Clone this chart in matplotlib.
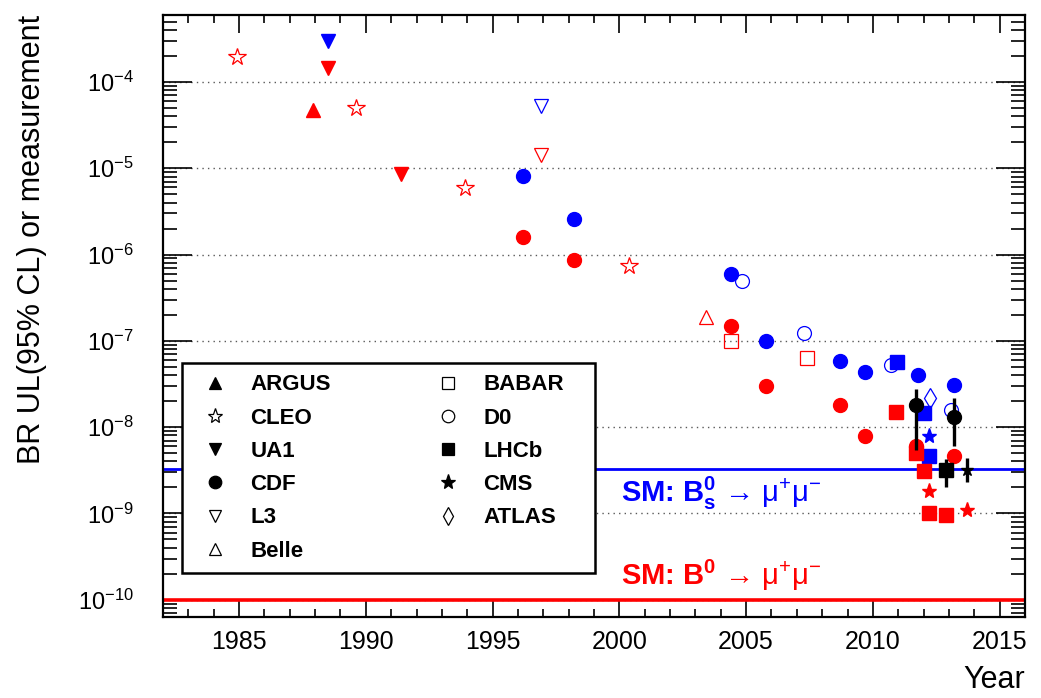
import matplotlib
matplotlib.use("Agg")
import matplotlib.pyplot as plt
from matplotlib.lines import Line2D
from matplotlib.patches import Rectangle
from matplotlib.ticker import LogLocator, MultipleLocator, NullFormatter

plt.rcParams["font.family"] = ["Liberation Sans", "DejaVu Sans"]
plt.rcParams["mathtext.fontset"] = "custom"
plt.rcParams["mathtext.rm"] = "Liberation Sans"
plt.rcParams["mathtext.bf"] = "Liberation Sans:bold"
plt.rcParams["mathtext.it"] = "Liberation Sans:italic"

RED = "#ff0000"
BLUE = "#0000ff"

# upper limits, B0 -> mu mu (red) and Bs -> mu mu (blue)
argus_b0_year = [1987.9]
argus_b0 = [4.7e-5]
cleo_b0_year = [1984.9, 1989.6, 1993.9, 2000.4]
cleo_b0 = [1.95e-4, 5.0e-5, 5.9e-6, 7.4e-7]
ua1_b0_year = [1988.5, 1991.4]
ua1_b0 = [1.45e-4, 8.6e-6]
ua1_bs_year = [1988.5]
ua1_bs = [3.0e-4]
l3_year = [1996.9]
l3_b0 = [1.43e-5]
l3_bs = [5.2e-5]
cdf_b0_year = [1996.2, 1998.2, 2004.4, 2005.8, 2008.7, 2009.7, 2011.7, 2013.2]
cdf_b0 = [1.6e-6, 8.6e-7, 1.5e-7, 3.0e-8, 1.8e-8, 7.8e-9, 6.0e-9, 4.6e-9]
cdf_bs_year = [1996.2, 1998.2, 2004.4, 2005.8, 2008.7, 2009.7, 2011.8, 2013.2]
cdf_bs = [8.2e-6, 2.6e-6, 5.9e-7, 1.0e-7, 5.8e-8, 4.4e-8, 4.0e-8, 3.1e-8]
belle_b0_year = [2003.4]
belle_b0 = [1.9e-7]
babar_b0_year = [2004.4, 2007.4]
babar_b0 = [1.0e-7, 6.3e-8]
d0_bs_year = [2004.85, 2007.3, 2010.7, 2013.1]
d0_bs = [4.9e-7, 1.22e-7, 5.3e-8, 1.6e-8]
lhcb_bs_year = [2010.95, 2012.0, 2012.2]
lhcb_bs = [5.7e-8, 1.45e-8, 4.6e-9]
lhcb_b0_year = [2010.9, 2011.7, 2012.0, 2012.2, 2012.9]
lhcb_b0 = [1.5e-8, 5.0e-9, 3.1e-9, 1.0e-9, 9.6e-10]
cms_bs_year = [2012.2]
cms_bs = [7.8e-9]
cms_b0_year = [2012.2, 2013.7]
cms_b0 = [1.8e-9, 1.1e-9]
atlas_bs_year = [2012.25]
atlas_bs = [2.2e-8]

# Bs -> mu mu measurements (black) with error bars
cdf_meas_year = [2011.7, 2013.2]
cdf_meas = [1.8e-8, 1.3e-8]
cdf_meas_lo = [5.5e-9, 6.0e-9]
cdf_meas_hi = [2.8e-8, 2.2e-8]
lhcb_meas_year = [2012.9]
lhcb_meas = [3.2e-9]
lhcb_meas_lo = [2.0e-9]
lhcb_meas_hi = [4.3e-9]
cms_meas_year = [2013.7]
cms_meas = [3.2e-9]
cms_meas_lo = [2.3e-9]
cms_meas_hi = [4.4e-9]

sm_bs = 3.25e-9
sm_b0 = 1.0e-10

y_ticks = [1e-10, 1e-9, 1e-8, 1e-7, 1e-6, 1e-5, 1e-4]

fig = plt.figure(figsize=(10.41, 6.98), dpi=100)
ax = fig.add_axes([0.1566, 0.116, 0.828, 0.8625])

ax.axhline(sm_bs, color=BLUE, lw=2.0, zorder=2)
ax.axhline(sm_b0, color=RED, lw=2.6, zorder=2)


def pts(x, y, marker, color, ms, filled=True, mew=1.0):
    ax.plot(x, y, ls="none", marker=marker, ms=ms, mew=mew,
            mfc=color if filled else "none", mec=color, zorder=4)


pts(argus_b0_year, argus_b0, "^", RED, 10)
pts(cleo_b0_year, cleo_b0, "*", RED, 13, filled=False, mew=0.9)
pts(ua1_b0_year, ua1_b0, "v", RED, 10)
pts(ua1_bs_year, ua1_bs, "v", BLUE, 10)
pts(l3_year, l3_b0, "v", RED, 10, filled=False, mew=0.9)
pts(l3_year, l3_bs, "v", BLUE, 10, filled=False, mew=0.9)
pts(cdf_b0_year, cdf_b0, "o", RED, 10)
pts(cdf_bs_year, cdf_bs, "o", BLUE, 10)
pts(belle_b0_year, belle_b0, "^", RED, 10, filled=False, mew=0.9)
pts(babar_b0_year, babar_b0, "s", RED, 10, filled=False, mew=0.9)
pts(d0_bs_year, d0_bs, "o", BLUE, 10, filled=False, mew=0.9)
pts(lhcb_bs_year, lhcb_bs, "s", BLUE, 9.5)
pts(lhcb_b0_year, lhcb_b0, "s", RED, 9.5)
pts(cms_bs_year, cms_bs, "*", BLUE, 11)
pts(cms_b0_year, cms_b0, "*", RED, 11)
pts(atlas_bs_year, atlas_bs, "d", BLUE, 10, filled=False, mew=0.9)


def meas(x, y, lo, hi, marker, ms):
    err = [[v - l for v, l in zip(y, lo)], [h - v for v, h in zip(y, hi)]]
    ax.errorbar(x, y, yerr=err, fmt=marker, color="black", ms=ms,
                elinewidth=2.4, capsize=0, zorder=5)


meas(cdf_meas_year, cdf_meas, cdf_meas_lo, cdf_meas_hi, "o", 10)
meas(lhcb_meas_year, lhcb_meas, lhcb_meas_lo, lhcb_meas_hi, "s", 9.5)
meas(cms_meas_year, cms_meas, cms_meas_lo, cms_meas_hi, "*", 9)

ax.set_xlim(1982, 2016)
ax.set_yscale("log")
ax.set_ylim(6.3e-11, 5.97e-4)

ax.xaxis.set_major_locator(MultipleLocator(5))
ax.xaxis.set_minor_locator(MultipleLocator(1))
ax.set_yticks(y_ticks)
ax.yaxis.set_minor_locator(LogLocator(base=10, subs=range(2, 10), numticks=20))
ax.yaxis.set_minor_formatter(NullFormatter())

ax.tick_params(which="both", direction="in", top=True, right=True, width=1.2)
ax.tick_params(axis="x", which="major", length=13, labelsize=18, pad=9)
ax.tick_params(axis="x", which="minor", length=6)
ax.tick_params(axis="y", which="major", length=21, labelsize=17, pad=21)
ax.tick_params(axis="y", which="minor", length=10)
for s in ax.spines.values():
    s.set_linewidth(1.6)

ax.yaxis.grid(True, which="major", linestyle=(0, (1, 3)), color="0.35", lw=1.0)
ax.set_axisbelow(True)

ax.set_xlabel("Year", loc="right", fontsize=22, labelpad=8)
ax.set_ylabel("BR UL(95% CL) or measurement", loc="top", fontsize=22, labelpad=22)

ax.text(2000.07, 1.36e-9,
        "SM: B$^{\\mathbf{0}}_{\\mathbf{s}}$ \u2192 $\\mathrm{\\mu^{+}\\mu^{-}}$",
        color=BLUE, fontsize=21, fontweight="bold", va="baseline", ha="left", zorder=6)
ax.text(2000.07, 1.48e-10,
        "SM: B$^{\\mathbf{0}}$ \u2192 $\\mathrm{\\mu^{+}\\mu^{-}}$",
        color=RED, fontsize=21, fontweight="bold", va="baseline", ha="left", zorder=6)

legend_entries = [
    ("ARGUS", "^", True), ("CLEO", "*", False), ("UA1", "v", True),
    ("CDF", "o", True), ("L3", "v", False), ("Belle", "^", False),
    ("BABAR", "s", False), ("D0", "o", False), ("LHCb", "s", True),
    ("CMS", "*", True), ("ATLAS", "d", False),
]
handles = [
    Line2D([], [], ls="none", marker=m, ms=9 if m != "*" else 11,
           mfc="black" if f else "none", mec="black", mew=0.9, label=lab)
    for lab, m, f in legend_entries
]
box = Rectangle((0.0217, 0.0726), 0.479, 0.3488, transform=ax.transAxes,
                facecolor="white", edgecolor="black", lw=1.8, zorder=6)
ax.add_patch(box)
leg = ax.legend(handles=handles, ncol=2, loc="upper left",
                bbox_to_anchor=(0.0217, 0.4214), borderaxespad=0,
                prop={"weight": "bold", "size": 16}, frameon=False,
                handlelength=2.0, handletextpad=0.6, labelspacing=0.55,
                borderpad=0.5, columnspacing=4.25)
leg.set_zorder(7)

fig.savefig("out.png", dpi=100)
